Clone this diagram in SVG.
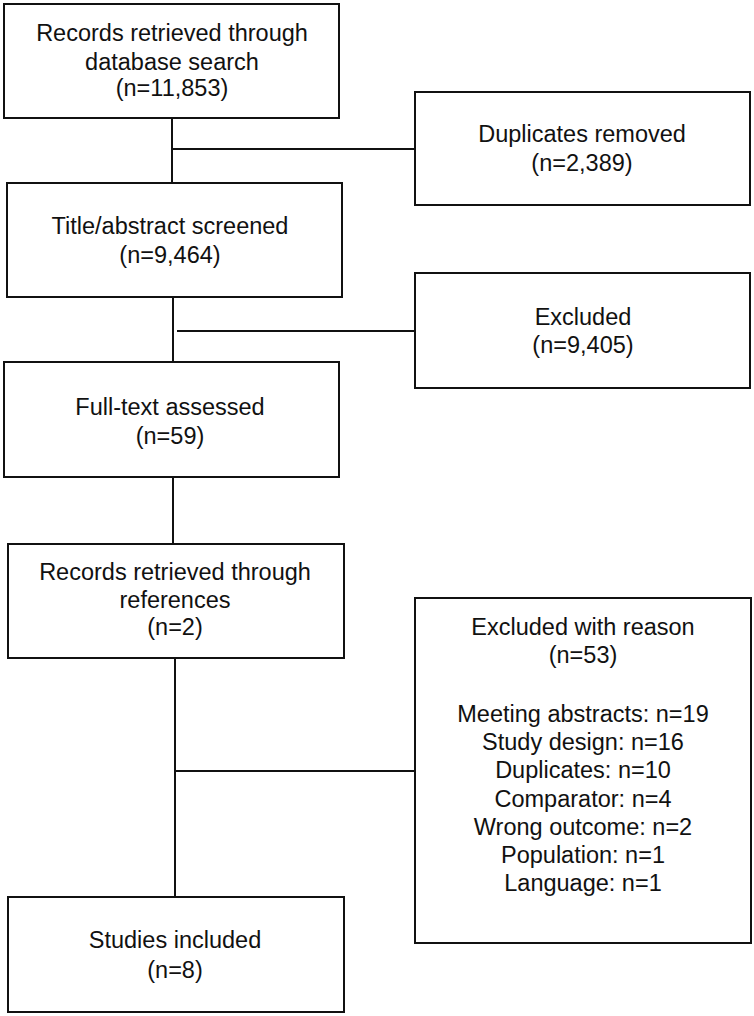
<svg xmlns="http://www.w3.org/2000/svg" width="754" height="1016" viewBox="0 0 754 1016">
<style>
.box{fill:#fff;stroke:#111;stroke-width:2}
.ln{stroke:#111;stroke-width:2;fill:none}
text{font-family:"Liberation Sans",Arial,sans-serif;font-size:23.5px;fill:#111;text-anchor:middle}
</style>
<rect x="0" y="0" width="754" height="1016" fill="#fff"/>
<g id="connectors">
<line class="ln" x1="172" y1="118" x2="172" y2="183"/>
<line class="ln" x1="172" y1="149" x2="415" y2="149"/>
<line class="ln" x1="173" y1="297" x2="173" y2="362"/>
<line class="ln" x1="177" y1="331" x2="415" y2="331"/>
<line class="ln" x1="173" y1="477" x2="173" y2="544"/>
<line class="ln" x1="175" y1="658" x2="175" y2="897"/>
<line class="ln" x1="175" y1="771" x2="416" y2="771"/>
</g>
<g id="records-db">
<rect class="box" x="4" y="4" width="335" height="114"/>
<text x="172" y="41">Records retrieved through</text>
<text x="172" y="70">database search</text>
<text x="172" y="96">(n=11,853)</text>
</g>
<g id="duplicates">
<rect class="box" x="415" y="92" width="335" height="113"/>
<text x="582" y="142">Duplicates removed</text>
<text x="582" y="171">(n=2,389)</text>
</g>
<g id="screened">
<rect class="box" x="7" y="183" width="335" height="114"/>
<text x="170" y="234">Title/abstract screened</text>
<text x="170" y="263">(n=9,464)</text>
</g>
<g id="excluded">
<rect class="box" x="415" y="273" width="335" height="115"/>
<text x="583" y="325">Excluded</text>
<text x="583" y="353">(n=9,405)</text>
</g>
<g id="fulltext">
<rect class="box" x="4" y="362" width="335" height="115"/>
<text x="170" y="415">Full-text assessed</text>
<text x="170" y="444">(n=59)</text>
</g>
<g id="records-refs">
<rect class="box" x="8" y="544" width="336" height="114"/>
<text x="175" y="580">Records retrieved through</text>
<text x="175" y="608">references</text>
<text x="175" y="635">(n=2)</text>
</g>
<g id="excluded-reason">
<rect class="box" x="415" y="598" width="336" height="345"/>
<text x="583" y="635">Excluded with reason</text>
<text x="583" y="663">(n=53)</text>
<text x="583" y="722">Meeting abstracts: n=19</text>
<text x="583" y="750">Study design: n=16</text>
<text x="583" y="778">Duplicates: n=10</text>
<text x="583" y="807">Comparator: n=4</text>
<text x="583" y="835">Wrong outcome: n=2</text>
<text x="583" y="863">Population: n=1</text>
<text x="583" y="891">Language: n=1</text>
</g>
<g id="included">
<rect class="box" x="8" y="897" width="336" height="115"/>
<text x="175" y="948">Studies included</text>
<text x="175" y="978">(n=8)</text>
</g>
</svg>
